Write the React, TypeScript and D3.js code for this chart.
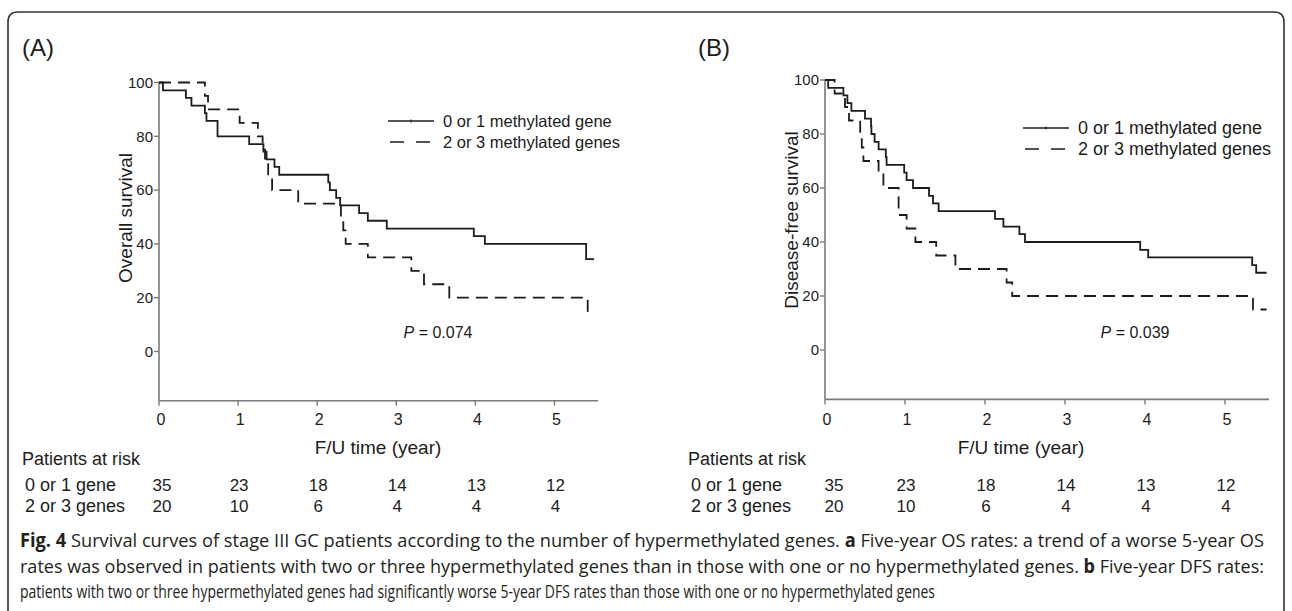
import React from 'react';
import * as d3 from 'd3';

// ---------- data ----------
const yearTicks = [0, 1, 2, 3, 4, 5];
const survTicks = [0, 20, 40, 60, 80, 100];

// Panel A: overall survival
const osLowTimes = [0, 0.05, 0.34, 0.41, 0.58, 0.60, 0.74, 1.14, 1.32, 1.36, 1.46, 1.52, 2.14, 2.16, 2.24, 2.29, 2.53, 2.64, 2.88, 3.98, 4.12, 5.40, 5.50];
const osLowSurv = [100, 97.1, 94.3, 91.4, 88.6, 85.7, 80, 77.1, 74.3, 71.4, 68.6, 65.7, 62.9, 60, 57.1, 54.3, 51.4, 48.6, 45.7, 42.9, 40, 34.3, 34.3];
const osHighTimes = [0, 0.58, 0.62, 1.02, 1.25, 1.31, 1.34, 1.38, 1.43, 1.76, 2.30, 2.33, 2.36, 2.64, 3.19, 3.35, 3.67, 5.42, 5.50];
const osHighSurv = [100, 95, 90, 85, 80, 75, 70, 65, 60, 55, 50, 45, 40, 35, 30, 25, 20, 15, 15];

// Panel B: disease-free survival
const dfsLowTimes = [0, 0.04, 0.23, 0.28, 0.33, 0.50, 0.575, 0.58, 0.62, 0.67, 0.76, 0.77, 0.99, 1.02, 1.10, 1.30, 1.35, 1.42, 2.125, 2.23, 2.43, 2.50, 3.94, 4.04, 5.34, 5.39, 5.52];
const dfsLowSurv = [100, 97.1, 94.3, 91.4, 88.6, 85.7, 82.9, 80, 77.1, 74.3, 71.4, 68.6, 65.7, 62.9, 60, 57.1, 54.3, 51.4, 48.6, 45.7, 42.9, 40, 37.1, 34.3, 31.4, 28.6, 28.6];
const dfsHighTimes = [0, 0.12, 0.25, 0.30, 0.44, 0.46, 0.48, 0.67, 0.73, 0.92, 1.02, 1.13, 1.39, 1.63, 2.27, 2.34, 5.35, 5.52];
const dfsHighSurv = [100, 95, 90, 85, 80, 75, 70, 65, 60, 50, 45, 40, 35, 30, 25, 20, 15, 15];

const riskLow = [35, 23, 18, 14, 13, 12];
const riskHigh = [20, 10, 6, 4, 4, 4];
const legendLabels = ['0 or 1 methylated gene', '2 or 3 methylated genes'];
const rowLabels = ['0 or 1 gene', '2 or 3 genes'];
const pValues = ['0.074', '0.039'];
const panelLetters = ['(A)', '(B)'];
const yLabels = ['Overall survival', 'Disease-free survival'];
const xLabel = 'F/U time (year)';
const riskTitle = 'Patients at risk';

const FONT = "'Liberation Sans', Arial, Helvetica, sans-serif";
const INK = '#1c1c1c';
const AXIS = '#7a7a7a';

type Geom = {
  xr: [number, number];
  yr: [number, number];
  letterX: number;
  yLabelX: number;
  yLabelY: number;
  legX: number;
  legY: number;
  legFont: number;
  pX: number;
  xLabelX: number;
  tableX: number;
  firstShift: number;
};

function Panel(props: {
  idx: number;
  lowT: number[]; lowS: number[]; highT: number[]; highS: number[];
  g: Geom;
}) {
  const { idx, lowT, lowS, highT, highS, g } = props;
  const x = d3.scaleLinear().domain([0, 5.55]).range(g.xr);
  const y = d3.scaleLinear().domain([-18.3, 100]).range(g.yr);
  const line = d3.line<[number, number]>()
    .x(d => x(d[0]))
    .y(d => y(d[1]))
    .curve(d3.curveStepAfter);
  const low = lowT.map((t, i) => [t, lowS[i]] as [number, number]);
  const high = highT.map((t, i) => [t, highS[i]] as [number, number]);
  const x0 = x(0);
  const yb = y(-18.3);
  const yt = y(100);
  return (
    <g fontFamily={FONT} fill={INK}>
      <text x={g.letterX} y={56} fontSize={24}>{panelLetters[idx]}</text>
      {/* axes */}
      <line x1={x0} x2={x0} y1={yt} y2={yb} stroke={AXIS} strokeWidth={1.6} />
      <line x1={x0} x2={x(5.55)} y1={yb} y2={yb} stroke={AXIS} strokeWidth={1.6} />
      {survTicks.map(v => (
        <g key={'y' + v}>
          <line x1={x0 - 5} x2={x0} y1={y(v)} y2={y(v)} stroke={AXIS} strokeWidth={1.4} />
          <text x={x0 - 6} y={y(v)} dy="0.35em" textAnchor="end" fontSize={15}>{v}</text>
        </g>
      ))}
      {yearTicks.map(v => (
        <g key={'x' + v}>
          <line x1={x(v)} x2={x(v)} y1={yb} y2={yb + 5} stroke={AXIS} strokeWidth={1.4} />
          <text x={x(v) + 2} y={425} textAnchor="middle" fontSize={16}>{v}</text>
        </g>
      ))}
      <text x={g.xLabelX} y={454} textAnchor="middle" fontSize={19}>{xLabel}</text>
      <text transform={`translate(${g.yLabelX},${g.yLabelY}) rotate(-90)`} textAnchor="middle" fontSize={19}>{yLabels[idx]}</text>
      {/* curves */}
      <path d={line(low) || ''} fill="none" stroke={INK} strokeWidth={1.8} />
      <path d={line(high) || ''} fill="none" stroke={INK} strokeWidth={1.8} strokeDasharray="12,7" />
      {/* legend */}
      <line x1={g.legX} x2={g.legX + 46} y1={g.legY} y2={g.legY} stroke={INK} strokeWidth={1.6} />
      <line x1={g.legX + 23} x2={g.legX + 23} y1={g.legY - 1.5} y2={g.legY + 1.5} stroke={INK} strokeWidth={1.2} />
      <text x={g.legX + 55} y={g.legY} dy="0.35em" fontSize={g.legFont}>{legendLabels[0]}</text>
      <line x1={g.legX + 2} x2={g.legX + 44} y1={g.legY + 21} y2={g.legY + 21} stroke={INK} strokeWidth={1.6} strokeDasharray="14,12" />
      <text x={g.legX + 55} y={g.legY + 21} dy="0.35em" fontSize={g.legFont}>{legendLabels[1]}</text>
      {/* p value */}
      <text x={g.pX} y={338} textAnchor="middle" fontSize={16}>
        <tspan fontStyle="italic">P</tspan> = {pValues[idx]}
      </text>
      {/* risk table */}
      <text x={g.tableX} y={465} fontSize={18}>{riskTitle}</text>
      <text x={g.tableX + 3} y={491} fontSize={18}>{rowLabels[0]}</text>
      <text x={g.tableX + 3} y={512} fontSize={18}>{rowLabels[1]}</text>
      {yearTicks.map((v, i) => (
        <g key={'r' + v}>
          <text x={x(v) + (i === 0 ? g.firstShift : 1)} y={491} textAnchor="middle" fontSize={17}>{riskLow[i]}</text>
          <text x={x(v) + (i === 0 ? g.firstShift : 1)} y={512} textAnchor="middle" fontSize={17}>{riskHigh[i]}</text>
        </g>
      ))}
    </g>
  );
}

const CAP_FONT = "'Open Sans', 'Noto Sans', sans-serif";

export default function App() {
  const gA: Geom = {
    xr: [159, 598], yr: [400.7, 82.5], letterX: 22, yLabelX: 132, yLabelY: 218,
    legX: 388, legY: 121, legFont: 16.5, pX: 438, xLabelX: 378, tableX: 22, firstShift: 3,
  };
  const gB: Geom = {
    xr: [825, 1269], yr: [399.4, 80], letterX: 698, yLabelX: 798, yLabelY: 220,
    legX: 1023, legY: 128, legFont: 18, pX: 1135, xLabelX: 1021, tableX: 688, firstShift: 9,
  };
  return (
    <div style={{ position: 'absolute', left: 0, top: 0 }}>
      <svg width={1292} height={611} style={{ display: 'block', background: '#fff' }}>
        <rect x={0} y={0} width={1292} height={611} fill="#fff" />
        <path d="M8,620 L8,22 Q8,12 18,12 L1274,12 Q1284,12 1284,22 L1284,620" fill="none" stroke="#333" strokeWidth={1.6} />
        <Panel idx={0} lowT={osLowTimes} lowS={osLowSurv} highT={osHighTimes} highS={osHighSurv} g={gA} />
        <Panel idx={1} lowT={dfsLowTimes} lowS={dfsLowSurv} highT={dfsHighTimes} highS={dfsHighSurv} g={gB} />
        <g fontFamily={CAP_FONT} fontSize={19} fill="#231f20">
          <text x={20} y={547} textLength={1244} lengthAdjust="spacingAndGlyphs">
            <tspan fontWeight="bold">Fig. 4</tspan> Survival curves of stage III GC patients according to the number of hypermethylated genes. <tspan fontWeight="bold">a</tspan> Five-year OS rates: a trend of a worse 5-year OS
          </text>
          <text x={20} y={573} textLength={1244} lengthAdjust="spacingAndGlyphs">
            rates was observed in patients with two or three hypermethylated genes than in those with one or no hypermethylated genes. <tspan fontWeight="bold">b</tspan> Five-year DFS rates:
          </text>
          <text x={20} y={598} textLength={915} lengthAdjust="spacingAndGlyphs">
            patients with two or three hypermethylated genes had significantly worse 5-year DFS rates than those with one or no hypermethylated genes
          </text>
        </g>
      </svg>
    </div>
  );
}
